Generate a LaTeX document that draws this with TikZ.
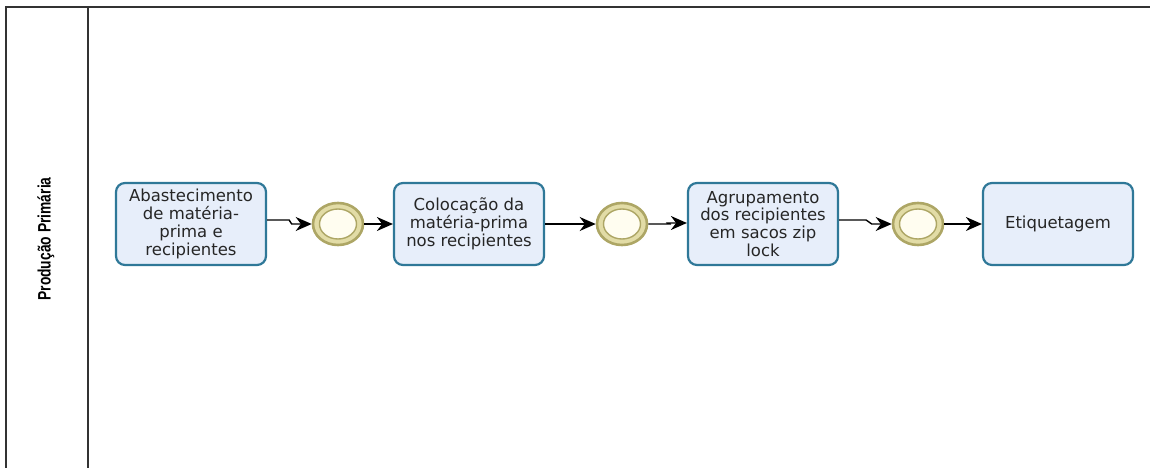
\documentclass[tikz,border=0pt]{standalone}
\usepackage{fontspec}
\setmainfont{DejaVu Sans}
\newfontfamily\lanefont{Liberation Sans}
\usetikzlibrary{arrows.meta,shapes.geometric}

\definecolor{poolline}{HTML}{333333}
\definecolor{taskline}{HTML}{2F7898}
\definecolor{taskfill}{HTML}{E7EEFA}
\definecolor{evline}{HTML}{ADA665}
\definecolor{evring}{HTML}{E2DCA6}
\definecolor{evfill}{HTML}{FFFDF0}
\definecolor{tasktext}{HTML}{262626}

\tikzset{
  taskbox/.style={draw=taskline, fill=taskfill, line width=2.2pt, rounded corners=9pt,
    minimum width=150pt, minimum height=82pt, inner sep=2pt, align=center,
    text=tasktext, font=\fontsize{16.5}{17.8}\selectfont},
  evouter/.style={ellipse, draw=evline, fill=evring, line width=2.6pt,
    minimum width=50pt, minimum height=42pt, inner sep=0pt},
  evinner/.style={ellipse, draw=evline, fill=evfill, line width=1.4pt,
    minimum width=37pt, minimum height=30pt, inner sep=0pt},
  flow/.style={draw=black, line width=1.4pt, -{Stealth[length=16pt,width=14pt]}},
  poolrule/.style={draw=poolline, line width=1.5pt}
}

\begin{document}
\begin{tikzpicture}[x=1pt, y=-1pt]
  \useasboundingbox (0,0) rectangle (1150,468);

  % pool frame and lane header
  \coordinate (ptl) at (6,7);
  \coordinate (ptr) at (1150,7);
  \coordinate (pbl) at (6,468);
  \coordinate (ltop) at (88,7);
  \coordinate (lbot) at (88,468);
  \draw[poolrule] (pbl) -- (ptl) -- (ptr);
  \draw[poolrule] (ltop) -- (lbot);
  \node[rotate=90, font=\lanefont\bfseries\fontsize{18}{20}\selectfont, text=black]
    (lane) at (46,239) {\scalebox{0.77}[1]{Produção Primária}};

  % tasks
  \node[taskbox] (b1) at (191,224) {Abastecimento\\de matéria-\\prima e\\recipientes};
  \node[taskbox] (b2) at (469,224) {Colocação da\\matéria-prima\\nos recipientes};
  \node[taskbox] (b3) at (763,224) {Agrupamento\\dos recipientes\\em sacos zip\\lock};
  \node[taskbox] (b4) at (1058,224) {Etiquetagem};

  % intermediate events
  \foreach \n/\x in {e1/338, e2/622, e3/918} {
    \node[evouter] (\n) at (\x,224) {};
    \node[evinner] (\n i) at (\x,224) {};
  }

  % sequence flows
  \draw[flow] ([yshift=4pt]b1.east) -- ++(22,0) -- ([xshift=-20pt]e1.west) -- (e1.west);
  \draw[flow] (e1.east) -- (b2.west);
  \draw[flow] (b2.east) -- (e2.west);
  \draw[flow] (e2.east) -- ++(21,0) -- ([xshift=-19pt,yshift=1pt]b3.west) -- ([yshift=1pt]b3.west);
  \draw[flow] ([yshift=4pt]b3.east) -- ++(27,0) -- ([xshift=-20pt]e3.west) -- (e3.west);
  \draw[flow] (e3.east) -- (b4.west);
\end{tikzpicture}
\end{document}
